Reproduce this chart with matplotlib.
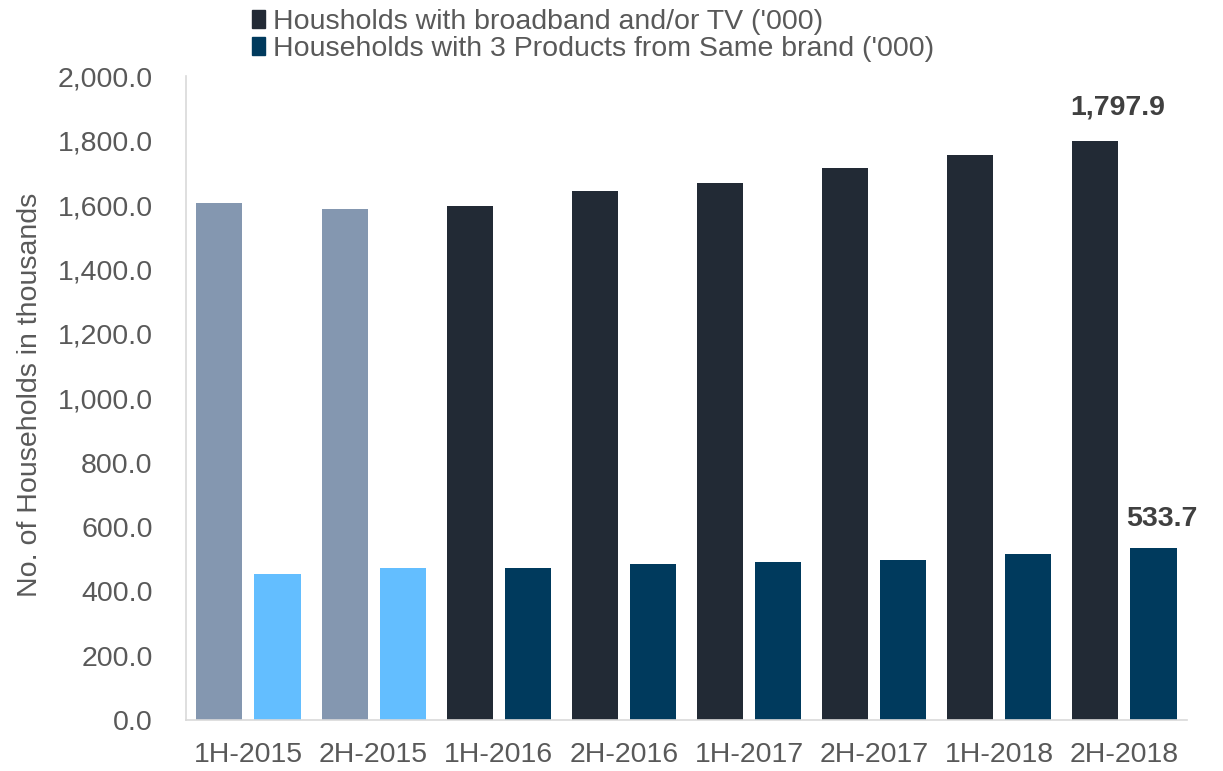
import matplotlib
matplotlib.use("Agg")
import matplotlib.pyplot as plt
from matplotlib.patches import Patch
from matplotlib.ticker import FuncFormatter

categories = ["1H-2015", "2H-2015", "1H-2016", "2H-2016", "1H-2017", "2H-2017", "1H-2018", "2H-2018"]
broadband_tv = [1605.6, 1587.0, 1596.0, 1645.0, 1670.0, 1715.0, 1757.0, 1797.9]
three_products = [454.0, 472.0, 474.0, 483.5, 490.0, 497.0, 515.5, 533.7]
series_names = ["Housholds with broadband and/or TV ('000)",
                "Households with 3 Products from Same brand ('000)"]

plt.rcParams['font.family'] = ['Liberation Sans', 'DejaVu Sans']
TXT = '#595959'
FS = 20.5

fig = plt.figure(figsize=(12.23, 7.71), dpi=100)
ax = fig.add_axes([0.152, 0.066, 0.8186, 0.835])

dark_cols = ['#8497B0' if c.endswith('2015') else '#222A35' for c in categories]
light_cols = ['#63BEFF' if c.endswith('2015') else '#003A5D' for c in categories]

x = list(range(len(categories)))
w = 0.368
off = 0.232
ax.bar([i - off for i in x], broadband_tv, width=w, color=dark_cols)
ax.bar([i + off for i in x], three_products, width=w, color=light_cols)

ax.set_xlim(-0.5, len(categories) - 0.5)
ax.set_ylim(0, 2000)
ax.set_yticks(range(0, 2001, 200))
ax.yaxis.set_major_formatter(FuncFormatter(lambda v, p: f"{v:,.1f}"))
ax.set_xticks(x)
ax.set_xticklabels(categories)
ax.tick_params(axis='both', length=0, labelsize=FS, colors=TXT)
ax.tick_params(axis='x', pad=16)
ax.tick_params(axis='y', pad=24)
for s in ['top', 'right']:
    ax.spines[s].set_visible(False)
for s in ['left', 'bottom']:
    ax.spines[s].set_color('#D9D9D9')
    ax.spines[s].set_linewidth(1.2)

fig.text(30 / 1223, 1 - 395 / 771, "No. of Households in thousands", rotation=90,
         ha='center', va='center', fontsize=FS, color=TXT)

last = len(categories) - 1
ax.annotate(f"{broadband_tv[last]:,.1f}", (last - off, broadband_tv[last]),
            xytext=(16, 15), textcoords='offset points',
            ha='center', va='bottom', fontsize=FS, fontweight='bold', color='#404040')
ax.annotate(f"{three_products[last]:,.1f}", (last + off, three_products[last]),
            xytext=(6, 12), textcoords='offset points',
            ha='center', va='bottom', fontsize=FS, fontweight='bold', color='#404040')

handles = [Patch(color='#222A35'), Patch(color='#003A5D')]
leg = fig.legend(handles, series_names, loc='upper left', bbox_to_anchor=(0.185, 1.021),
                 frameon=False, fontsize=FS, handlelength=0.45, handleheight=0.6,
                 handletextpad=0.3, labelspacing=0.02, labelcolor=TXT)

fig.savefig("out.png", dpi=100)
